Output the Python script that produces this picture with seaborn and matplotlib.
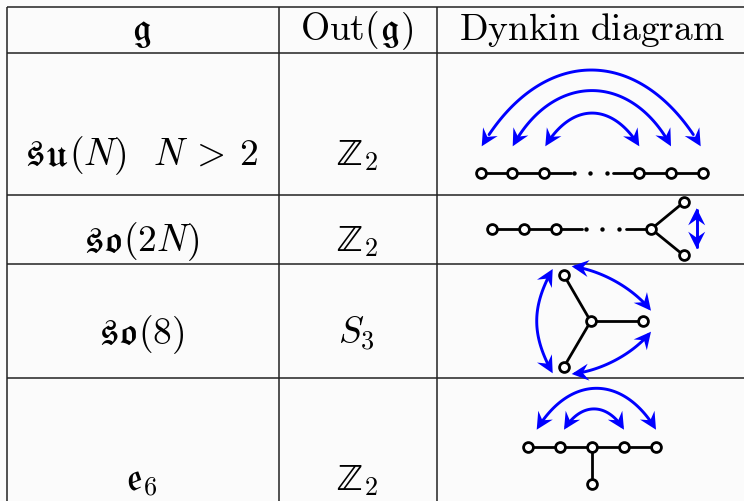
import numpy as np
import pandas as pd
import matplotlib
matplotlib.use('Agg')
import matplotlib.pyplot as plt
import seaborn as sns

# table text, each cell is a list of (math string, font) pieces set side by side
Z2 = [(r'$\mathrm{\mathbb{Z}}$', 'stix'), (r'$2$', 'sub')]
col1_labels = [
    [(r'$\mathfrak{g}$', 'stix')],
    [(r'$\mathfrak{su}$', 'stix'), (r'$(N)\enspace\;N\,>\:2$', 'cm')],
    [(r'$\mathfrak{so}$', 'stix'), (r'$(2N)$', 'cm')],
    [(r'$\mathfrak{so}$', 'stix'), (r'$(8)$', 'cm')],
    [(r'$\mathfrak{e}$', 'stix'), (r'$6$', 'sub')],
]
col2_labels = [
    [(r'$\mathrm{Out}($', 'cm'), (r'$\mathfrak{g}$', 'stix'), (r'$)$', 'cm')],
    Z2,
    Z2,
    [(r'$S_3$', 'cm')],
    Z2,
]
col3_header = [(r'$\mathrm{Dynkin\ diagram}$', 'cm')]
baselines = [40, 165, 251.5, 344, 490]

grid_x = [6.5, 278.5, 437]
grid_y = [7.5, 53.5, 195.5, 265, 379]

# Dynkin diagrams in picture pixels
nodes_x = [480.7, 512.3, 544.3, 639.3, 671.3, 703.3,
           492.3, 524.3, 556, 651.3, 683.7, 683.7,
           590.7, 643.3, 564, 563.7,
           528.3, 560, 592, 623.7, 655.7, 592]
nodes_y = [174.3] * 6 + [230, 230, 230, 230, 203.3, 256.3] + \
          [322.3, 322.3, 276.3, 368.3] + [447.7] * 5 + [484.7]

edge_x = [[480.7, 570.7], [613.3, 703.3], [492.3, 582.3], [625.7, 651.3],
          [651.3, 683.7], [651.3, 683.7], [590.7, 643.3], [590.7, 564],
          [590.7, 563.7], [528.3, 655.7], [592, 592]]
edge_y = [[174.3, 174.3], [174.3, 174.3], [230, 230], [230, 230],
          [230, 203.3], [230, 256.3], [322.3, 322.3], [322.3, 276.3],
          [322.3, 368.3], [447.7, 447.7], [447.7, 484.7]]

dots_x = [573.7, 590.3, 607, 585.7, 602, 619]
dots_y = [174, 174, 174, 229.5, 229.5, 229.5]

# double arrows as cubic curves: tip, control, control, tip
arrows = [
    [(481.7, 147.3), (541.7, 45.6), (640.7, 45.6), (700.7, 147.3)],
    [(512.7, 147.3), (553, 73), (631, 73), (671, 147.3)],
    [(545.3, 147.3), (572, 103), (612, 103), (639.3, 147.3)],
    [(696.7, 209.3), (696.7, 220), (696.7, 239), (696.7, 249.7)],
    [(552.7, 270), (531.4, 308), (531.4, 336), (552.7, 374.3)],
    [(571.7, 267.3), (600, 271), (632, 288), (651, 311.7)],
    [(651, 332.7), (632, 356), (600, 372), (571.7, 375)],
    [(536.7, 430.7), (570, 375.5), (623, 375.5), (656, 430.7)],
    [(564, 430.7), (581, 403), (607, 403), (624, 430.7)],
]

BG = '#fbfbfb'
BLUE = '#0000ff'
FS = 27

sns.set_theme(style='white', rc={'figure.facecolor': BG, 'savefig.facecolor': BG})

fig = plt.figure(figsize=(7.44, 5.02), dpi=100)
ax = fig.add_axes([0, 0, 1, 1])
ax.set_xlim(0, 744)
ax.set_ylim(502, 0)
ax.set_axis_off()

ax.hlines(grid_y, grid_x[0], 744, color='#222222', lw=1.1, zorder=1)
ax.vlines(grid_x, grid_y[0], 502, color='#222222', lw=1.1, zorder=1)


def put_label(pieces, xc, y):
    # set pieces one after the other and centre the group on xc
    renderer = fig.canvas.get_renderer()
    texts = []
    widths = []
    for s, font in pieces:
        if font == 'sub':
            t = ax.text(0, y + 5, s, fontsize=FS * 0.7, math_fontfamily='cm', color='black',
                        ha='left', va='baseline', zorder=5)
        else:
            t = ax.text(0, y, s, fontsize=FS, math_fontfamily=font, color='black',
                        ha='left', va='baseline', zorder=5)
        texts.append(t)
        widths.append(t.get_window_extent(renderer).width + 1)
    x = xc - sum(widths) / 2
    for t, w in zip(texts, widths):
        t.set_x(x)
        x += w


for label, y in zip(col1_labels, baselines):
    put_label(label, 142, y)
for label, y in zip(col2_labels, baselines):
    put_label(label, 357, y)
put_label(col3_header, 592, baselines[0])

edges = pd.DataFrame({
    'x': np.concatenate(edge_x),
    'y': np.concatenate(edge_y),
    'edge': np.repeat(np.arange(len(edge_x)), 2),
})
sns.lineplot(data=edges, x='x', y='y', units='edge', estimator=None, sort=False,
             color='black', linewidth=2.0, ax=ax, legend=False, zorder=3)
sns.scatterplot(x=dots_x, y=dots_y, s=10, color='black', linewidth=0, ax=ax,
                legend=False, zorder=3)
sns.scatterplot(x=nodes_x, y=nodes_y, s=50, color='white', edgecolor='black',
                linewidth=2.0, ax=ax, legend=False, zorder=4)
ax.set_xlabel('')
ax.set_ylabel('')


def head(tip, ctrl):
    # stealth style arrow head pointing at tip
    tip = np.array(tip)
    d = tip - np.array(ctrl)
    d = d / np.hypot(*d)
    n = np.array([-d[1], d[0]])
    pts = [tip, tip - 17 * d + 8.5 * n, tip - 11 * d, tip - 17 * d - 8.5 * n]
    ax.fill(*zip(*pts), color=BLUE, lw=0, zorder=6)


t = np.linspace(0.04, 0.96, 80)[:, None]
for p0, p1, p2, p3 in arrows:
    p = np.array([p0, p1, p2, p3])
    curve = (1 - t) ** 3 * p[0] + 3 * (1 - t) ** 2 * t * p[1] + 3 * (1 - t) * t ** 2 * p[2] + t ** 3 * p[3]
    ax.plot(curve[:, 0], curve[:, 1], color=BLUE, lw=2.1, zorder=6)
    head(p0, curve[0] * 0.5 + p[1] * 0.5)
    head(p3, curve[-1] * 0.5 + p[2] * 0.5)

ax.set_xlim(0, 744)
ax.set_ylim(502, 0)
fig.savefig('out.png', dpi=100)
